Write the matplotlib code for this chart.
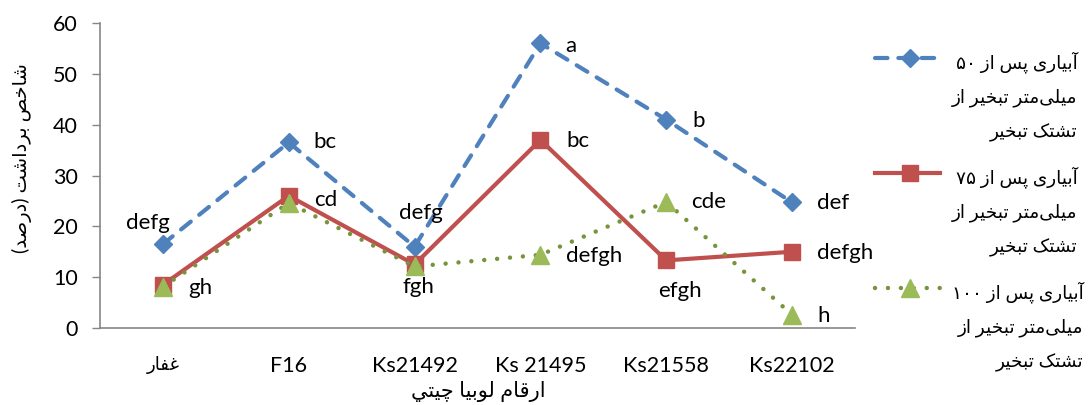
import numpy as np
import matplotlib
matplotlib.use('Agg')
import matplotlib.pyplot as plt
from matplotlib.lines import Line2D

plt.rcParams['font.family'] = ['Lato', 'DejaVu Sans']

# arabic letter -> (isolated, final, initial, medial)
FORMS = {
    'ا': (0xFE8D, 0xFE8E, None, None),
    'آ': (0xFE81, 0xFE82, None, None),
    'ب': (0xFE8F, 0xFE90, 0xFE91, 0xFE92),
    'پ': (0xFB56, 0xFB57, 0xFB58, 0xFB59),
    'ت': (0xFE95, 0xFE96, 0xFE97, 0xFE98),
    'ث': (0xFE99, 0xFE9A, 0xFE9B, 0xFE9C),
    'ج': (0xFE9D, 0xFE9E, 0xFE9F, 0xFEA0),
    'چ': (0xFB7A, 0xFB7B, 0xFB7C, 0xFB7D),
    'ح': (0xFEA1, 0xFEA2, 0xFEA3, 0xFEA4),
    'خ': (0xFEA5, 0xFEA6, 0xFEA7, 0xFEA8),
    'د': (0xFEA9, 0xFEAA, None, None),
    'ذ': (0xFEAB, 0xFEAC, None, None),
    'ر': (0xFEAD, 0xFEAE, None, None),
    'ز': (0xFEAF, 0xFEB0, None, None),
    'س': (0xFEB1, 0xFEB2, 0xFEB3, 0xFEB4),
    'ش': (0xFEB5, 0xFEB6, 0xFEB7, 0xFEB8),
    'ص': (0xFEB9, 0xFEBA, 0xFEBB, 0xFEBC),
    'ض': (0xFEBD, 0xFEBE, 0xFEBF, 0xFEC0),
    'ع': (0xFEC9, 0xFECA, 0xFECB, 0xFECC),
    'غ': (0xFECD, 0xFECE, 0xFECF, 0xFED0),
    'ف': (0xFED1, 0xFED2, 0xFED3, 0xFED4),
    'ق': (0xFED5, 0xFED6, 0xFED7, 0xFED8),
    'ک': (0xFB8E, 0xFB8F, 0xFB90, 0xFB91),
    'ل': (0xFEDD, 0xFEDE, 0xFEDF, 0xFEE0),
    'م': (0xFEE1, 0xFEE2, 0xFEE3, 0xFEE4),
    'ن': (0xFEE5, 0xFEE6, 0xFEE7, 0xFEE8),
    'ه': (0xFEE9, 0xFEEA, 0xFEEB, 0xFEEC),
    'و': (0xFEED, 0xFEEE, None, None),
    'ی': (0xFBFC, 0xFBFD, 0xFBFE, 0xFBFF),
    'ي': (0xFEF1, 0xFEF2, 0xFEF3, 0xFEF4),
}
MIRROR = {'(': ')', ')': '('}


def joins_left(ch):
    return ch in FORMS and FORMS[ch][2] is not None


def fa(text):
    """contextual shaping + right-to-left ordering, one line at a time"""
    if not any(c in FORMS for c in text):
        return text
    lines = []
    for line in text.split('\n'):
        out = []
        for i, ch in enumerate(line):
            if ch == '\u200c':
                continue
            if ch not in FORMS:
                out.append(ch)
                continue
            prev = line[i - 1] if i > 0 else ''
            nxt = line[i + 1] if i + 1 < len(line) else ''
            jp = joins_left(prev)
            jn = joins_left(ch) and nxt in FORMS
            iso, fin, ini, med = FORMS[ch]
            if jp and jn:
                code = med
            elif jp:
                code = fin
            elif jn:
                code = ini
            else:
                code = iso
            out.append(chr(code))
        rev = [MIRROR.get(c, c) for c in reversed(out)]
        # digit / latin runs keep left-to-right order
        res, run = [], []
        for c in rev:
            if c.isdigit() or c.isascii() and c.isalnum():
                run.append(c)
            else:
                res.extend(reversed(run))
                run = []
                res.append(c)
        res.extend(reversed(run))
        lines.append(''.join(res))
    return '\n'.join(lines)


cultivars = ['غفار', 'F16', 'Ks21492', 'Ks 21495', 'Ks21558', 'Ks22102']
irr_50 = [16.5, 36.5, 16.0, 56.0, 41.0, 24.7]
irr_75 = [8.5, 26.0, 12.5, 37.0, 13.3, 15.0]
irr_100 = [8.1, 24.6, 12.1, 14.4, 24.8, 2.6]

lab_50 = ['defg', 'bc', 'defg', 'a', 'b', 'def']
lab_75 = ['gh', 'cd', 'fgh', 'bc', 'efgh', 'defgh']
lab_100 = [None, None, None, 'defgh', 'cde', 'h']

legend_labels = [
    'آبیاری پس از ۵۰\nمیلی\u200cمتر تبخیر از\nتشتک تبخیر',
    'آبیاری پس از ۷۵\nمیلی\u200cمتر تبخیر از\nتشتک تبخیر',
    'آبیاری پس از ۱۰۰\nمیلی\u200cمتر تبخیر از\nتشتک تبخیر',
]

W, H = 1091, 405
fig = plt.figure(figsize=(W / 100, H / 100), dpi=100)
ax = fig.add_axes([100 / W, 1 - 328 / H, 755 / W, 305 / H])

x = np.arange(len(cultivars))

styles = [
    dict(color='#4F81BD', ls=(0, (3.0, 2.6)), lw=3, marker='D', ms=9.5,
         mfc='#4F81BD', mec='#4F81BD', dash_capstyle='round'),
    dict(color='#C0504D', ls='-', lw=3, marker='s', ms=12,
         mfc='#C0504D', mec='#C0504D'),
    dict(color='#77933C', ls=(0, (0.01, 2.9)), lw=3.2, marker='^', ms=13,
         mfc='#9BBB59', mec='#9BBB59', dash_capstyle='round'),
]

series = [irr_50, irr_75, irr_100]
for vals, st in zip(series, styles):
    ax.plot(x, vals, **st)

# letter groups next to the points (offsets in px)
offsets_50 = [(-15, 21, 'center'), (25, 0, 'left'), (6, 34, 'center'),
              (25, -3, 'left'), (26, -1, 'left'), (25, -1, 'left')]
offsets_75 = [(25, -3, 'left'), (25, -4, 'left'), (4, -23, 'center'),
              (26, -1, 'left'), (14, -31, 'center'), (25, -1, 'left')]
offsets_100 = [None, None, None, (26, -1, 'left'), (25, 0, 'left'), (25, -1, 'left')]

for vals, labs, offs in [(irr_50, lab_50, offsets_50), (irr_75, lab_75, offsets_75),
                         (irr_100, lab_100, offsets_100)]:
    for xi, v, lab, off in zip(x, vals, labs, offs):
        if lab is None:
            continue
        dx, dy, ha = off
        ax.annotate(lab, (xi, v), xytext=(dx * 0.72, dy * 0.72), textcoords='offset points',
                    ha=ha, va='center', fontsize=16, color='black')

ax.set_xlim(-0.5, 5.5)
ax.set_ylim(0, 60)
ax.set_yticks(range(0, 61, 10))
ax.set_xticks(x)
ax.set_xticklabels([fa(c) for c in cultivars], fontsize=15.5)
ax.get_xticklabels()[0].set_fontsize(13)
ax.tick_params(axis='x', length=0, pad=20)
ax.tick_params(axis='y', length=6, width=1, color='#868686', pad=10, labelsize=15.5)
for s in ['top', 'right']:
    ax.spines[s].set_visible(False)
for s in ['left', 'bottom']:
    ax.spines[s].set_color('#868686')
    ax.spines[s].set_linewidth(1.2)

fig.text(478 / W, 1 - 392 / H, fa('ارقام لوبیا چیتي'), ha='center', va='center', fontsize=15)
fig.text(22 / W, 1 - 158 / H, fa('شاخص برداشت (درصد)'), ha='center', va='center',
         rotation=90, fontsize=14)

# legend drawn by hand so each handle sits on the first text line
for i, (st, lab) in enumerate(zip(styles, legend_labels)):
    yc = 1 - (58 + 115 * i) / H
    xs = np.array([875, 910, 940]) / W
    fig.add_artist(Line2D(xs, [yc] * 3, transform=fig.transFigure, markevery=[1], **st))
    fig.text(952 / W, 1 - (51 + 115 * i) / H, fa(lab), ha='left', va='top',
             fontsize=13.3, linespacing=2.15, multialignment='right')

fig.savefig('out.png', dpi=100)
